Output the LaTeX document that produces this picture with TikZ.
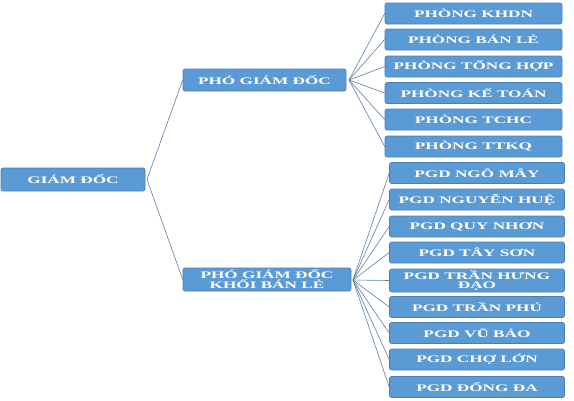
\documentclass[tikz,border=0pt]{standalone}
\usepackage{fontspec}
\newfontfamily\boxfont[FakeStretch=1.72]{Liberation Serif}
\usepackage{tikz}
\usetikzlibrary{positioning}

\definecolor{boxfill}{HTML}{5B9BD5}
\definecolor{boxline}{HTML}{4A7EB5}
\definecolor{linkline}{HTML}{5E7FA6}

\begin{document}
\begin{tikzpicture}[x=1pt, y=-1pt]

\tikzstyle{box} = [rectangle, rounded corners=2pt, draw=boxline, line width=0.6pt, fill=boxfill, text=white, inner sep=0pt, align=center, font=\boxfont\bfseries\fontsize{10}{9}\selectfont]
\tikzstyle{box_root} = [box, minimum width=144pt, minimum height=23pt]
\tikzstyle{box_mid} = [box, minimum height=22pt]
\tikzstyle{box_up} = [box, minimum width=177pt, minimum height=21pt]
\tikzstyle{box_low} = [box, minimum width=175pt, minimum height=21pt]
\tikzstyle{link} = [-, line width=0.6pt, draw=linkline]

\useasboundingbox (0,0) rectangle (574,400);

%------------------------------------------------------------
	\node[box_root] (b00) at (73,179.5) {GIÁM ĐỐC};
	\coordinate (j00) at (147,179.5);

%------------------------------------------------------------
	\node[box_mid, minimum width=163pt] (b10) at (264.5,80) {PHÓ GIÁM ĐỐC};
	\node[box_mid, minimum width=168pt, minimum height=23pt] (b11) at (267,279.5) {PHÓ GIÁM ĐỐC\\KHỐI BÁN LẺ};
	\coordinate (j10) at (349,80);
	\coordinate (j11) at (353,280);

	\path[link] (j00) edge (b10.west);
	\path[link] (j00) edge (b11.west);

%------------------------------------------------------------
	\node[box_up] (b20) at (473.5,13.5) {PHÒNG KHDN};
	\node[box_up] (b21) at (473.5,39.5) {PHÒNG BÁN LẺ};
	\node[box_up] (b22) at (473.5,66.5) {PHÒNG TỔNG HỢP};
	\node[box_up] (b23) at (473.5,93) {PHÒNG KẾ TOÁN};
	\node[box_up] (b24) at (473.5,119.5) {PHÒNG TCHC};
	\node[box_up] (b25) at (473.5,146.5) {PHÒNG TTKQ};

	\path[link] (j10) edge (b20.west);
	\path[link] (j10) edge (b21.west);
	\path[link] (j10) edge (b22.west);
	\path[link] (j10) edge (b23.west);
	\path[link] (j10) edge (b24.west);
	\path[link] (j10) edge (b25.west);

%------------------------------------------------------------
	\node[box_low] (b30) at (477,173) {PGD NGÔ MÂY};
	\node[box_low] (b31) at (477,199.5) {PGD NGUYỄN HUỆ};
	\node[box_low] (b32) at (477,226.5) {PGD QUY NHƠN};
	\node[box_low] (b33) at (477,252.5) {PGD TÂY SƠN};
	\node[box_low, minimum height=23pt] (b34) at (477,280.5) {PGD TRẦN HƯNG\\ĐẠO};
	\node[box_low] (b35) at (477,307) {PGD TRẦN PHÚ};
	\node[box_low] (b36) at (477,333) {PGD VŨ BẢO};
	\node[box_low] (b37) at (477,359.5) {PGD CHỢ LỚN};
	\node[box_low] (b38) at (477,387) {PGD ĐỐNG ĐA};

	\path[link] (j11) edge (b30.west);
	\path[link] (j11) edge (b31.west);
	\path[link] (j11) edge (b32.west);
	\path[link] (j11) edge (b33.west);
	\path[link] (j11) edge (b34.west);
	\path[link] (j11) edge (b35.west);
	\path[link] (j11) edge (b36.west);
	\path[link] (j11) edge (b37.west);
	\path[link] (j11) edge (b38.west);

\end{tikzpicture}
\end{document}
